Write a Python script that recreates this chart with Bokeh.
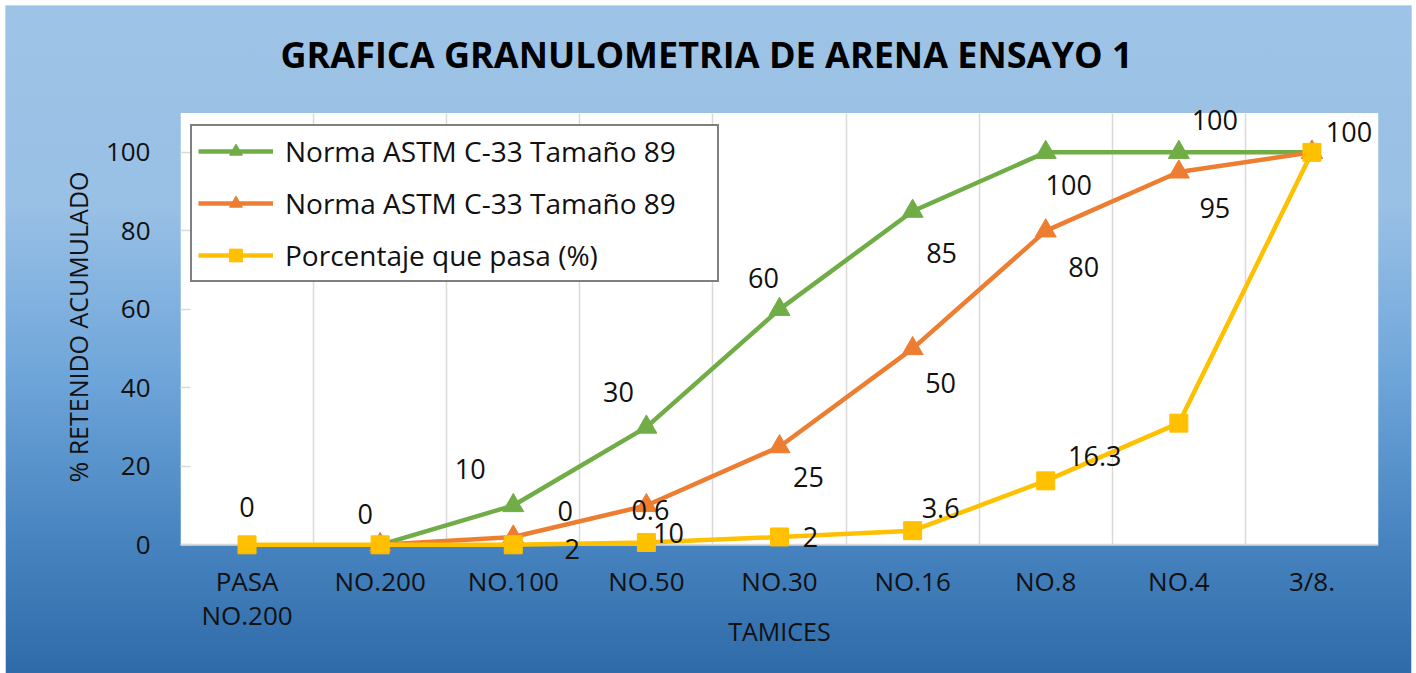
import math
from bokeh.plotting import figure
from bokeh.models import (ColumnDataSource, FixedTicker, Legend, LegendItem, Range1d, Label,
                          BoxAnnotation, Span)
from bokeh.embed import file_html
from bokeh.resources import INLINE

# ---------------- data ----------------
categories = ["PASA\nNO.200", "NO.200", "NO.100", "NO.50", "NO.30", "NO.16", "NO.8", "NO.4", "3/8."]
norma_a = [math.nan, 0, 10, 30, 60, 85, 100, 100, 100]
norma_b = [math.nan, 0, 2, 10, 25, 50, 80, 95, 100]
pasa = [0, 0, 0, 0.6, 2, 3.6, 16.3, 31, 100]
series_names = ["Norma ASTM C-33 Tamaño 89", "Norma ASTM C-33 Tamaño 89", "Porcentaje que pasa (%)"]
y_ticks = [0, 20, 40, 60, 80, 100]
y_min, y_max = 0, 110
title_text = "GRAFICA  GRANULOMETRIA  DE  ARENA  ENSAYO  1"
x_title = "TAMICES"
y_title = "% RETENIDO ACUMULADO"

# label placement (pixel offsets from each labelled point; +dy = down)
offs_a = {2: (-43, -37), 3: (-28, -35), 4: (-16, -31), 5: (29, 42), 6: (23, 33), 7: (36, -32)}
offs_b = {2: (59, 12), 3: (22, 27), 4: (29, 30), 5: (28, 34), 6: (38, 36), 7: (36, 36)}
offs_p = {0: (0, -38), 1: (-15, -31), 2: (52, -34), 3: (4, -32), 4: (31, 0),
          5: (28, -23), 6: (49, -25), 8: (37, -20)}

GREEN, ORANGE, YELLOW = "#70AD47", "#ED7D31", "#FFC000"
FONT = "Open Sans"
TXT = "#111111"

# the frame is a bit taller than the white plot area so that data labels are not clipped
p = figure(width=1405, height=667, output_backend="svg", toolbar_location=None,
           x_range=Range1d(-0.5, len(categories) - 0.5), y_range=Range1d(-4, 115),
           min_border_left=174, min_border_right=33, min_border_top=87, min_border_bottom=113)
p.styles = {"background": "linear-gradient(to bottom, #9DC3E6 0%, #99C0E5 30%, #6FA6DA 55%, #4A86C2 78%, #2E6BA8 100%)",
            "margin-left": "6px", "margin-top": "6px", "outline": "1px solid #d4d4d4"}
p.border_fill_color = None
p.background_fill_color = None
p.outline_line_color = None

# white plot area and its bottom line
p.add_layout(BoxAnnotation(bottom=y_min, top=y_max, fill_color="white", fill_alpha=1,
                           line_color=None, level="image"))
p.add_layout(Span(location=y_min, dimension="width", line_color="#d9d9d9", line_width=2,
                  level="underlay"))

p.title.text = title_text
p.title.align = "left"
p.title.text_font = FONT
p.title.text_font_size = "36px"
p.title.text_font_style = "bold"
p.title.text_color = "#000000"
p.title.standoff = 30
p.title.offset = 100

xs = list(range(len(categories)))
p.xaxis.ticker = FixedTicker(ticks=xs)
p.xaxis.major_label_overrides = {i: c for i, c in enumerate(categories)}
p.xaxis.major_tick_line_color = None
p.xaxis.minor_tick_line_color = None
p.xaxis.axis_line_color = None
p.xaxis.major_label_standoff = -4
p.xaxis.major_label_text_line_height = 0.95
p.xaxis.axis_label = x_title
p.xaxis.axis_label_standoff = -22

p.yaxis.ticker = FixedTicker(ticks=y_ticks)
p.yaxis.axis_line_color = None
p.yaxis.major_tick_in = 10
p.yaxis.major_tick_out = 0
p.yaxis.major_tick_line_color = "#d9d9d9"
p.yaxis.major_tick_line_width = 1.5
p.yaxis.minor_tick_line_color = None
p.yaxis.major_label_standoff = 30
p.yaxis.axis_label = y_title
p.yaxis.axis_label_standoff = 8

for ax in (p.xaxis, p.yaxis):
    ax.major_label_text_font = FONT
    ax.major_label_text_font_size = "26px"
    ax.major_label_text_color = TXT
    ax.axis_label_text_font = FONT
    ax.axis_label_text_font_size = "25px"
    ax.axis_label_text_font_style = "normal"
    ax.axis_label_text_color = TXT

boundaries = [i + 0.5 for i in range(len(categories) - 1)]
grid = p.xgrid[0]
if hasattr(grid, "cross_bounds"):
    grid.ticker = FixedTicker(ticks=boundaries)
    grid.cross_bounds = (y_min, y_max)
    grid.grid_line_color = "#d9d9d9"
    grid.grid_line_width = 1.5
else:
    grid.grid_line_color = None
    p.segment(x0=boundaries, x1=boundaries, y0=[y_min] * len(boundaries), y1=[y_max] * len(boundaries),
              line_color="#d9d9d9", line_width=1.5, level="underlay")
p.ygrid.grid_line_color = None

items = []
for vals, col, marker, msize, name in [(norma_a, GREEN, "triangle", 21, series_names[0]),
                                       (norma_b, ORANGE, "triangle", 21, series_names[1]),
                                       (pasa, YELLOW, "square", 18, series_names[2])]:
    src = ColumnDataSource(dict(x=xs, y=vals))
    lr = p.line("x", "y", source=src, line_color=col, line_width=4.5)
    sr = p.scatter("x", "y", source=src, marker=marker, size=msize, fill_color=col, line_color=col)
    items.append(LegendItem(label=name, renderers=[lr, sr]))

# data labels
for vals, offs in [(norma_a, offs_a), (norma_b, offs_b), (pasa, offs_p)]:
    for i, (dx, dy) in offs.items():
        p.add_layout(Label(x=xs[i], y=vals[i], text=f"{vals[i]:g}", x_offset=dx, y_offset=-dy,
                           text_align="center", text_baseline="middle", text_font=FONT,
                           text_font_size="27px", text_color=TXT))

legend = Legend(items=items, location=(10, 278))
legend.label_text_font = FONT
legend.label_text_font_size = "28px"
legend.label_text_color = TXT
legend.label_height = 32
legend.glyph_height = 32
legend.glyph_width = 75
legend.label_standoff = 12
legend.label_width = 426
legend.spacing = 14
legend.padding = 6
legend.border_line_color = "black"
legend.border_line_width = 2
legend.background_fill_color = "white"
legend.background_fill_alpha = 1
p.add_layout(legend, "center")

open("out.html", "w").write(file_html(p, INLINE))
